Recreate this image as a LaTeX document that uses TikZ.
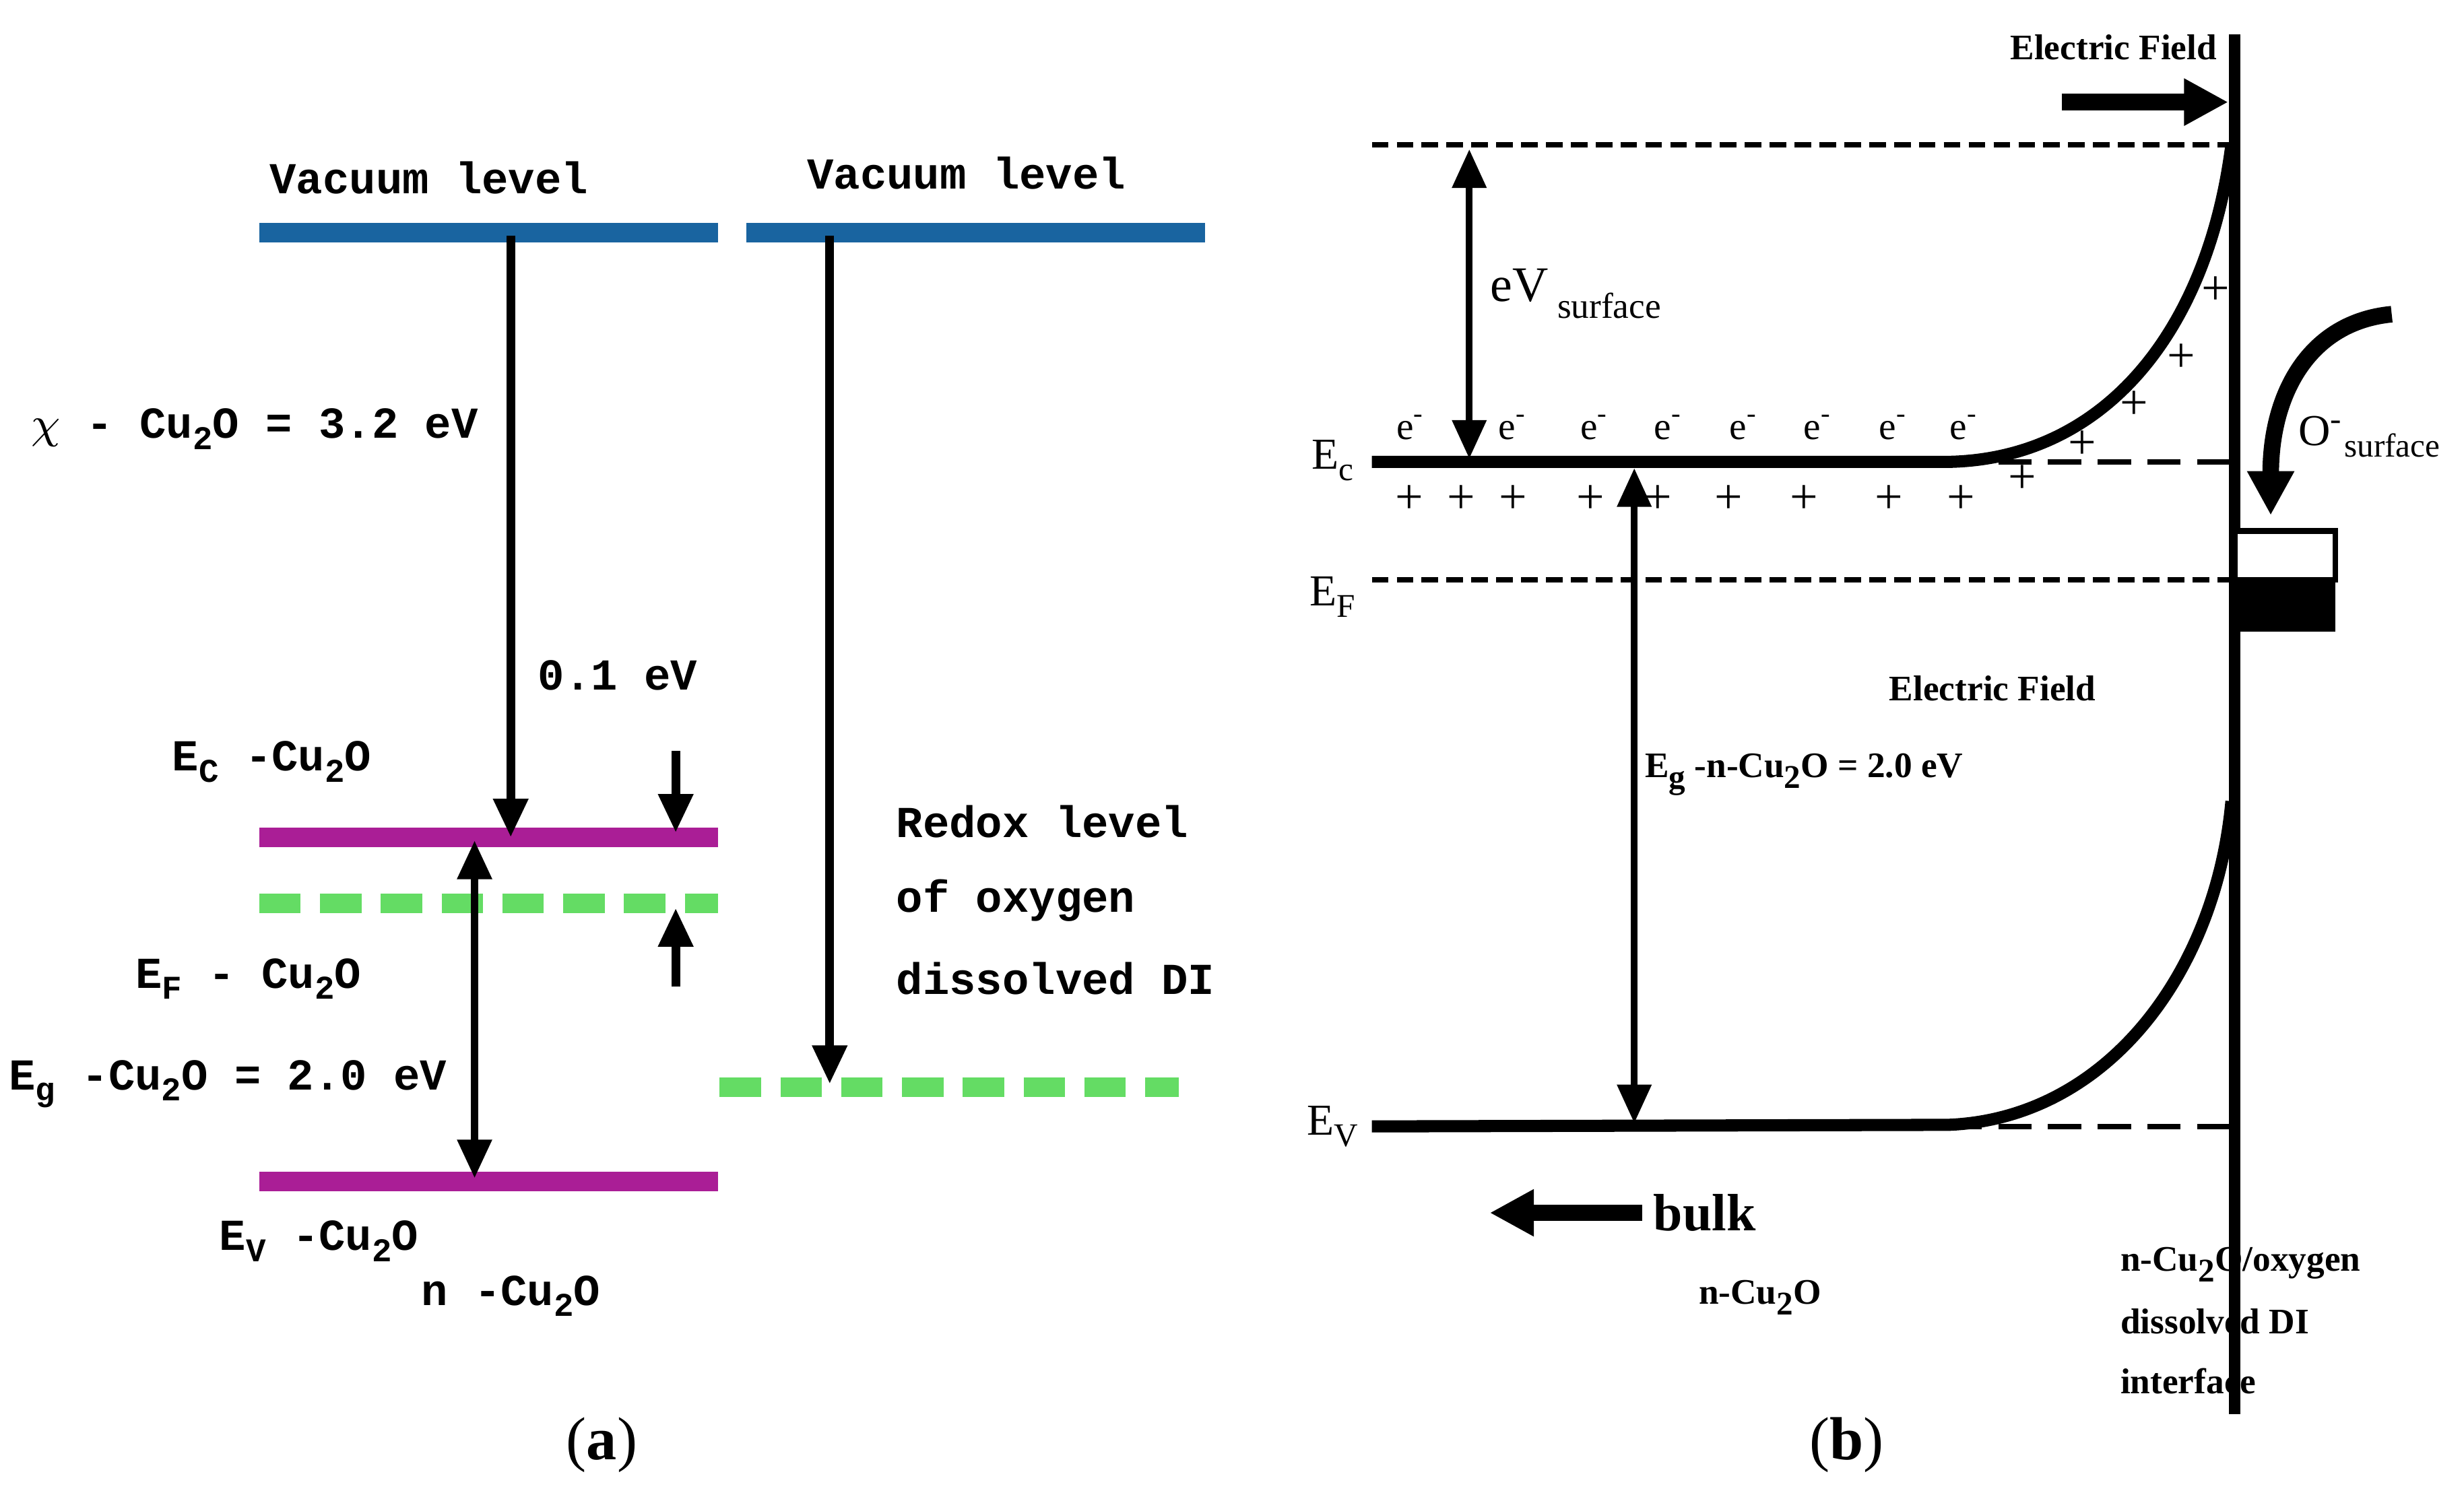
\documentclass[tikz,border=0pt]{standalone}
\usepackage{fontspec}
\setmainfont{Liberation Serif}
\newfontfamily\mono{Liberation Mono}
\usetikzlibrary{arrows.meta}
\definecolor{vblue}{RGB}{25,100,160}
\definecolor{mag}{RGB}{170,30,150}
\definecolor{lgreen}{RGB}{100,220,100}
\newcommand{\msub}[1]{\raisebox{-2pt}{\fontsize{6}{7}\selectfont #1}}
\begin{document}
\begin{tikzpicture}[x=0.01cm,y=-0.01cm,
  ml/.style={font=\mono\bfseries\fontsize{8}{10}\selectfont},
  sl/.style={font=\fontsize{6.5}{8}\selectfont\bfseries},
  arr/.style={line width=1.6pt,-{Triangle[length=7pt,width=6pt]}},
  darr/.style={line width=1.4pt,{Triangle[length=7pt,width=6pt]}-{Triangle[length=7pt,width=6pt]}},
  lev/.style={line width=3.5pt}]
\useasboundingbox (0,0) rectangle (1568,954);
% ---------- (a)
\draw[lev,vblue] (165,148) -- (457,148);
\draw[lev,vblue] (475,148) -- (767,148);
\node[ml] (v1) at (273,113) {Vacuum level};
\node[ml] (v2) at (615,110) {Vacuum level};
\draw[lev,mag] (165,533) -- (457,533);
\draw[lev,mag] (165,752) -- (457,752);
\draw[line width=3.5pt,lgreen,dash pattern=on 7.5pt off 3.5pt] (165,575) -- (457,575);
\draw[line width=3.5pt,lgreen,dash pattern=on 7.5pt off 3.5pt] (458,692) -- (750,692);
\coordinate (a1) at (325,150); \coordinate (a2) at (325,533);
\draw[arr] (a1) -- (a2);
\coordinate (b1) at (528,150); \coordinate (b2) at (528,690);
\draw[arr] (b1) -- (b2);
\coordinate (c1) at (302,535); \coordinate (c2) at (302,750);
\draw[darr] (c1) -- (c2);
\coordinate (d1) at (430,478); \coordinate (d2) at (430,530);
\draw[arr] (d1) -- (d2);
\coordinate (e1) at (430,628); \coordinate (e2) at (430,578);
\draw[arr] (e1) -- (e2);
\node[ml] (chi) at (162,273) {$\chi$ - Cu\msub{2}O = 3.2 eV};
\node[ml] (d01) at (393,430) {0.1 eV};
\node[ml] (ec) at (173,485) {E\msub{C} -Cu\msub{2}O};
\node[ml] (ef) at (158,623) {E\msub{F} - Cu\msub{2}O};
\node[ml] (eg) at (145,690) {E\msub{g} -Cu\msub{2}O = 2.0 eV};
\node[ml] (ev) at (203,790) {E\msub{V} -Cu\msub{2}O};
\node[ml] (n) at (325,825) {n -Cu\msub{2}O};
\node[ml,anchor=west] (r1) at (558,523) {Redox level};
\node[ml,anchor=west] (r2) at (558,573) {of oxygen};
\node[ml,anchor=west] (r3) at (558,623) {dissolved DI};
\node[font=\fontsize{11}{12}\selectfont] (la) at (383,920) {(\textbf{a})};
% ---------- (b)
\draw[line width=2pt] (1422,22) -- (1422,900);
\node[sl] (efl) at (1345,30) {Electric Field};
\coordinate (f1) at (1312,65); \coordinate (f2) at (1418,65);
\draw[line width=3pt,-{Triangle[length=8pt,width=8pt]}] (f1) -- (f2);
\draw[line width=1pt,dash pattern=on 3pt off 1.5pt] (873,92) -- (1422,92);
\draw[line width=1pt,dash pattern=on 3pt off 1.5pt] (873,369) -- (1422,369);
\draw[line width=1pt,dash pattern=on 6pt off 3pt] (1240,294) -- (1422,294);
\draw[line width=1pt,dash pattern=on 6pt off 3pt] (1240,717) -- (1422,717);
\draw[line width=2.2pt] (873,294) -- (1240,294) .. controls (1340,292) and (1405,210) .. (1420,92);
\draw[line width=2.2pt] (873,717) -- (1240,716) .. controls (1340,712) and (1410,620) .. (1420,510);
\coordinate (g1) at (935,95); \coordinate (g2) at (935,292);
\draw[darr,line width=1.2pt] (g1) -- (g2);
\coordinate (h1) at (1040,298); \coordinate (h2) at (1040,715);
\draw[darr,line width=1.2pt] (h1) -- (h2);
\node[anchor=west,font=\fontsize{9}{12}\selectfont] (evs) at (936,187) {eV\raisebox{-3pt}{\fontsize{6.5}{8}\selectfont\ surface}};
\foreach \x in {898,963,1015,1062,1110,1157,1205,1250} \node[font=\fontsize{7}{8}\selectfont] at (\x,272) {e\textsuperscript{-}};
\foreach \x in {897,930,963,1012,1055,1100,1148,1202,1248} \node[font=\fontsize{9}{10}\selectfont] at (\x,318) {+};
\foreach \x/\y in {1287/305,1325/283,1358/258,1388/228,1410/185} \node[font=\fontsize{9}{10}\selectfont] at (\x,\y) {+};
\node[font=\fontsize{8}{10}\selectfont] (ecr) at (848,293) {E\msub{c}};
\node[font=\fontsize{8}{10}\selectfont] (efr) at (848,380) {E\msub{F}};
\node[font=\fontsize{8}{10}\selectfont] (evr) at (848,717) {E\msub{V}};
\draw[line width=1pt,fill=white] (1422,338) rectangle (1486,369);
\fill (1422,369) rectangle (1486,402);
\coordinate (o1) at (1522,200); \coordinate (o2) at (1445,328);
\draw[line width=3pt,-{Triangle[length=8pt,width=8pt]}] (o1) .. controls (1470,205) and (1445,250) .. (o2);
\node[anchor=west,font=\fontsize{8}{10}\selectfont,inner sep=0pt] (os) at (1462,278) {O\textsuperscript{-}\raisebox{-2pt}{\fontsize{6}{7}\selectfont surface}};
\node[sl] (ef2) at (1268,438) {Electric Field};
\node[sl] (egr) at (1148,493) {E\msub{g} -n-Cu\msub{2}O = 2.0 eV};
\coordinate (k1) at (1045,772); \coordinate (k2) at (948,772);
\draw[line width=3pt,-{Triangle[length=8pt,width=8pt]}] (k1) -- (k2);
\node[anchor=west,font=\fontsize{9.5}{12}\selectfont\bfseries,inner sep=1pt] (bulk) at (1048,772) {bulk};
\node[sl] (ncu) at (1120,826) {n-Cu\msub{2}O};
\node[sl,anchor=west] (i1) at (1337,805) {n-Cu\msub{2}O/oxygen};
\node[sl,anchor=west] (i2) at (1337,841) {dissolved DI};
\node[sl,anchor=west] (i3) at (1337,879) {interface};
\node[font=\fontsize{11}{12}\selectfont] (lb) at (1175,920) {(\textbf{b})};
\end{tikzpicture}
\end{document}
